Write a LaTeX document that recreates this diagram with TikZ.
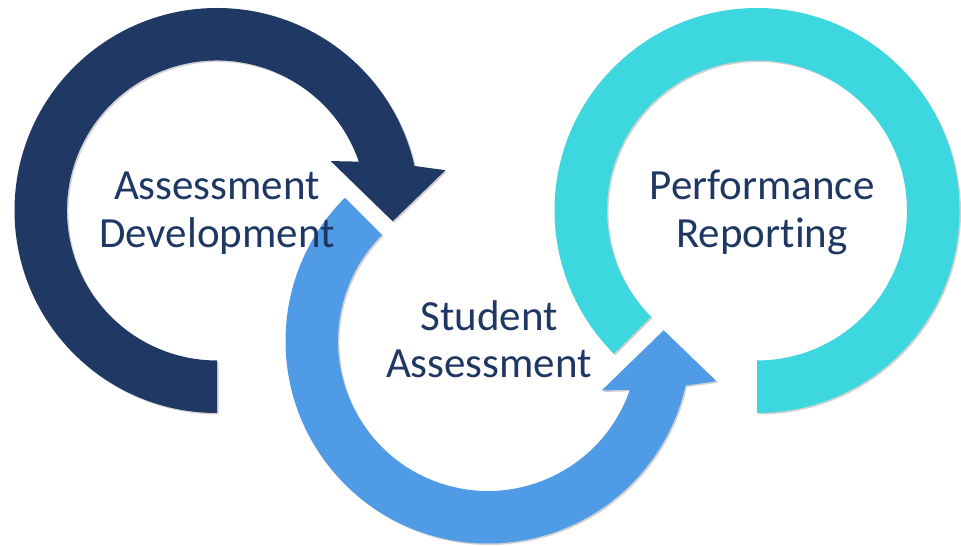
\documentclass[tikz,border=0pt]{standalone}
\usepackage{fontspec}
\setmainfont{Carlito}[Ligatures={NoCommon,NoContextual}]
\usetikzlibrary{shadows}
\definecolor{navyring}{HTML}{203864}
\definecolor{bluering}{HTML}{4F9BE6}
\definecolor{cyanring}{HTML}{3DD8DF}
\definecolor{txtnavy}{HTML}{1F3763}
\begin{document}
\begin{tikzpicture}[x=1pt,y=1pt,
  ring/.style={draw=none, drop shadow={shadow xshift=1.5pt, shadow yshift=-1.5pt, opacity=0.18, fill=black}},
  lbl/.style={text=txtnavy, font=\fontsize{43}{48}\selectfont, anchor=base, inner sep=0pt}]
\fill[white] (0,0) rectangle (961,546);
\useasboundingbox (0,0) rectangle (961,546);
% Assessment Development ring (clockwise arrow)
\begin{scope}[shift={(217,335.5)}]
\path[ring, fill=navyring] (270:202.5) arc[start angle=270, end angle=12.7, radius=202.5]
  -- (10:232) -- (-3.5:176) -- (23.5:124) -- (19:150)
  arc[start angle=19, end angle=270, radius=150] -- cycle;
\end{scope}
% Student Assessment ring (counter-clockwise arrow)
\begin{scope}[shift={(488,205)}]
\path[ring, fill=bluering] (135:202.5) arc[start angle=135, end angle=347.3, radius=202.5]
  -- (350:232) -- (3.5:176) -- (336.5:124) -- (341:150)
  arc[start angle=341, end angle=135, radius=150] -- cycle;
\end{scope}
% Performance Reporting ring
\begin{scope}[shift={(757,335.5)}]
\path[ring, fill=cyanring] (-90:202.5) arc[start angle=-90, end angle=225, radius=202.5]
  -- (225:150) arc[start angle=225, end angle=-90, radius=150] -- cycle;
\end{scope}
% labels
\node[lbl] (adA) at (217,346) {Assessment};
\node[lbl] (adD) at (217,298) {Development};
\node[lbl] (saS) at (489,215) {Student};
\node[lbl] (saA) at (489,168) {Assessment};
\node[lbl] (prP) at (762,346) {Performance};
\node[lbl] (prR) at (762,298) {Reporting};
\end{tikzpicture}
\end{document}
